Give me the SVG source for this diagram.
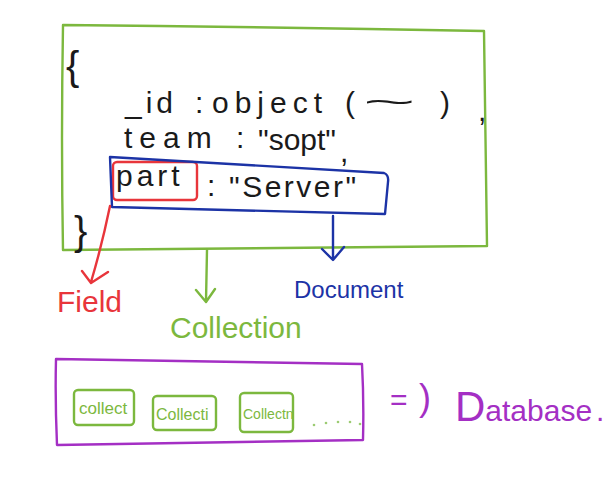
<svg xmlns="http://www.w3.org/2000/svg" width="614" height="489" viewBox="0 0 614 489">
<style>
.t{font-family:"Liberation Sans","DejaVu Sans",sans-serif;}
.blk{fill:#1a1a1a;}
.ln{fill:none;stroke-width:2.4;stroke-linecap:round;stroke-linejoin:round;}
.green{stroke:#7cb83e;}
.red{stroke:#e8353b;}
.blue{stroke:#1c33a6;}
.purple{stroke:#a42fc4;}
.gtxt{fill:#7cb83e;}
.ptxt{fill:#a42fc4;}
</style>
<rect width="614" height="489" fill="#ffffff"/>

<g id="collection-box">
  <path class="ln green" d="M63,25 Q270,27 484,31 Q486,140 487,246 Q270,248 63,250 Q61,140 63,25 Z"/>
  <text class="t blk" x="66" y="80" font-size="40">{</text>
  <text class="t blk" font-size="30">
    <tspan x="125" y="113" letter-spacing="4">_id</tspan><tspan x="195" y="113">:</tspan><tspan x="212" y="113" letter-spacing="6">object</tspan><tspan x="345" y="113">(</tspan><tspan x="440" y="113">)</tspan><tspan x="478" y="121">,</tspan>
  </text>
  <text class="t blk" font-size="30" transform="translate(363,112) scale(3,1)">~</text>
  <text class="t blk" font-size="30">
    <tspan x="124" y="148" letter-spacing="7">team</tspan><tspan x="236" y="148">:</tspan><tspan x="258" y="150">"sopt"</tspan><tspan x="340" y="162">,</tspan>
  </text>
  <text class="t blk" font-size="30">
    <tspan x="116" y="186" letter-spacing="4">part</tspan><tspan x="207" y="196">:</tspan><tspan x="229" y="197" letter-spacing="2.5">"Server"</tspan>
  </text>
  <text class="t blk" x="74" y="245" font-size="40">}</text>
</g>

<g id="field-box">
  <rect class="ln red" x="113" y="162" width="84" height="38" rx="4"/>
</g>

<g id="document-box">
  <path class="ln blue" d="M110,157 L384,173 Q389,175 388,182 L385,214 L112,207 Z"/>
</g>

<g id="field-label">
  <text class="t" x="57" y="312" font-size="30" fill="#e8353b">Field</text>
</g>

<g id="collection-label">
  <text class="t gtxt" x="170" y="338" font-size="30">Collection</text>
</g>

<g id="document-label">
  <text class="t" x="294" y="298" font-size="24" fill="#1c33a6">Document</text>
</g>

<g id="database-box">
  <path class="ln purple" d="M56,359 Q210,362 362,364 Q364,400 363,440 Q210,443 57,445 Q55,400 56,359 Z"/>
  <rect class="ln green" x="74" y="390" width="60" height="35" rx="4"/>
  <text class="t gtxt" x="79" y="414" font-size="17">collect</text>
  <rect class="ln green" x="153" y="396" width="63" height="34" rx="4"/>
  <text class="t gtxt" x="156" y="420" font-size="16">Collecti</text>
  <rect class="ln green" x="240" y="393" width="53" height="39" rx="4"/>
  <text class="t gtxt" x="243" y="419" font-size="14">Collectn</text>
  <g fill="#9ccb72">
    <circle cx="314" cy="425" r="1.3"/>
    <circle cx="326" cy="423" r="1.3"/>
    <circle cx="338" cy="422" r="1.3"/>
    <circle cx="350" cy="422" r="1.3"/>
    <circle cx="360" cy="424" r="1.3"/>
  </g>
</g>

<g id="database-label">
  <text class="t ptxt"><tspan x="390" y="410" font-size="30">=</tspan><tspan x="419" y="410" font-size="36">)</tspan></text>
  <text class="t ptxt" x="455" y="421"><tspan font-size="42">D</tspan><tspan font-size="30">atabase</tspan></text>
  <text class="t ptxt" x="596" y="421" font-size="30">.</text>
</g>

<g id="connectors">
  <path class="ln red" d="M110,206 Q102,245 91,282 M82,271 L91,283 L108,272"/>
  <path class="ln green" d="M207,250 L206,301 M196,290 L206,302 L215,289"/>
  <path class="ln blue" d="M333,216 L333,259 M322,249 L333,260 L344,247"/>
</g>
</svg>
